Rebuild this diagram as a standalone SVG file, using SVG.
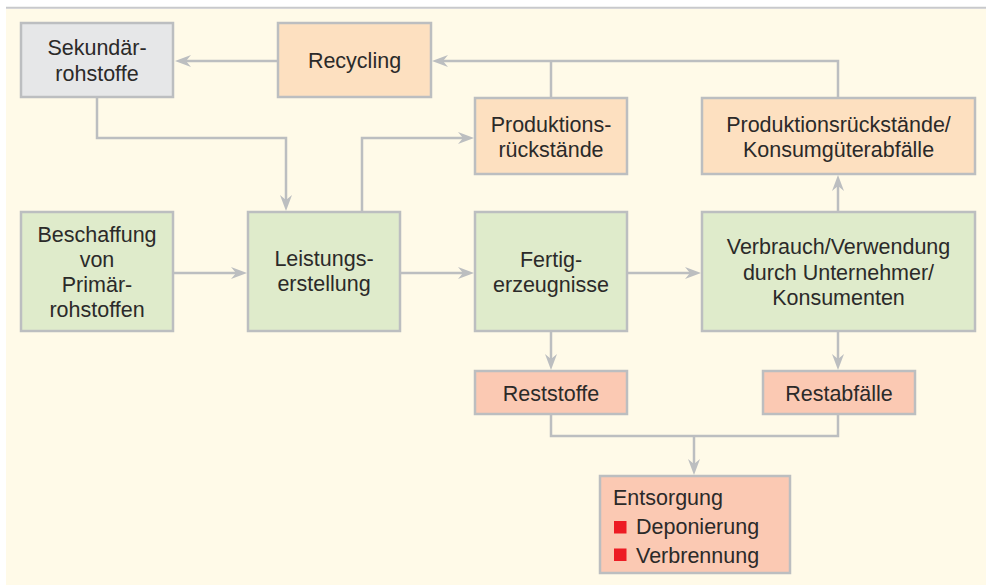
<svg xmlns="http://www.w3.org/2000/svg" width="986" height="585" viewBox="0 0 986 585">
<defs>
<style>
.box{stroke:#bcbec0;stroke-width:2.5}
.grey{fill:#e6e7e8}
.peach{fill:#fde0c0}
.green{fill:#dfebcb}
.salmon{fill:#fbc9b3}
.t{font-family:"Liberation Sans",Arial,sans-serif;font-size:21.5px;fill:#2b2a29;text-anchor:middle}
.tl{text-anchor:start}
.conn{fill:none;stroke:#bcbec0;stroke-width:2.5}
.arr{marker-end:url(#ah)}
</style>
<marker id="ah" viewBox="0 0 16 12" refX="7" refY="6" markerWidth="16" markerHeight="12" markerUnits="userSpaceOnUse" orient="auto">
<path d="M16,6 L0,0 L5,6 L0,12 Z" fill="#bcbec0"/>
</marker>
</defs>
<rect x="0" y="0" width="986" height="585" fill="#ffffff"/>
<rect x="6" y="9" width="980" height="576" fill="#fffae8"/>
<line x1="6" y1="7.8" x2="986" y2="7.8" stroke="#c8c9cb" stroke-width="2"/>

<g id="connectors">
<path class="conn arr" d="M278,61 H184"/>
<path class="conn" d="M551,98 V61"/>
<path class="conn arr" d="M838,98 V61 H441"/>
<path class="conn arr" d="M97,97 V138 H286 V202"/>
<path class="conn arr" d="M362,212 V138 H465"/>
<path class="conn arr" d="M173,273 H238"/>
<path class="conn arr" d="M400,273 H465"/>
<path class="conn arr" d="M627,273 H692"/>
<path class="conn arr" d="M838,212 V184"/>
<path class="conn arr" d="M551,331 V361"/>
<path class="conn arr" d="M838,331 V361"/>
<path class="conn" d="M551,414 V436 H838 V414"/>
<path class="conn arr" d="M694,436 V466"/>
</g>

<g id="sekundaer">
<rect class="box grey" x="21" y="23" width="152" height="74"/>
<text class="t" x="97" y="55">Sekundär-</text>
<text class="t" x="97" y="80.5">rohstoffe</text>
</g>
<g id="recycling">
<rect class="box peach" x="278" y="23" width="153" height="74"/>
<text class="t" x="354.5" y="68">Recycling</text>
</g>
<g id="produktionsrueckstaende">
<rect class="box peach" x="475" y="98" width="152" height="76"/>
<text class="t" x="551" y="131.5">Produktions-</text>
<text class="t" x="551" y="156.5">rückstände</text>
</g>
<g id="konsumgueterabfaelle">
<rect class="box peach" x="702" y="98" width="273" height="76"/>
<text class="t" x="838.5" y="131.5">Produktionsrückstände/</text>
<text class="t" x="838.5" y="156.5">Konsumgüterabfälle</text>
</g>
<g id="beschaffung">
<rect class="box green" x="21" y="212" width="152" height="119"/>
<text class="t" x="97" y="242">Beschaffung</text>
<text class="t" x="97" y="266.7">von</text>
<text class="t" x="97" y="291.7">Primär-</text>
<text class="t" x="97" y="317">rohstoffen</text>
</g>
<g id="leistungserstellung">
<rect class="box green" x="248" y="212" width="152" height="119"/>
<text class="t" x="324" y="265.5">Leistungs-</text>
<text class="t" x="324" y="290.7">erstellung</text>
</g>
<g id="fertigerzeugnisse">
<rect class="box green" x="475" y="212" width="152" height="119"/>
<text class="t" x="551" y="266.5">Fertig-</text>
<text class="t" x="551" y="291.5">erzeugnisse</text>
</g>
<g id="verbrauch">
<rect class="box green" x="702" y="212" width="273" height="119"/>
<text class="t" x="838.5" y="254.3">Verbrauch/Verwendung</text>
<text class="t" x="838.5" y="280">durch Unternehmer/</text>
<text class="t" x="838.5" y="304.7">Konsumenten</text>
</g>
<g id="reststoffe">
<rect class="box salmon" x="475" y="371" width="152" height="43"/>
<text class="t" x="551" y="400.5">Reststoffe</text>
</g>
<g id="restabfaelle">
<rect class="box salmon" x="763" y="371" width="152" height="43"/>
<text class="t" x="839" y="400.5">Restabfälle</text>
</g>
<g id="entsorgung">
<rect class="box salmon" x="600" y="476" width="190" height="97"/>
<text class="t tl" x="613" y="505">Entsorgung</text>
<rect x="614" y="521" width="12.5" height="12.5" fill="#ed1c24"/>
<text class="t tl" x="636" y="534.3">Deponierung</text>
<rect x="614" y="548.5" width="12.5" height="12.5" fill="#ed1c24"/>
<text class="t tl" x="636" y="562.5">Verbrennung</text>
</g>
</svg>
